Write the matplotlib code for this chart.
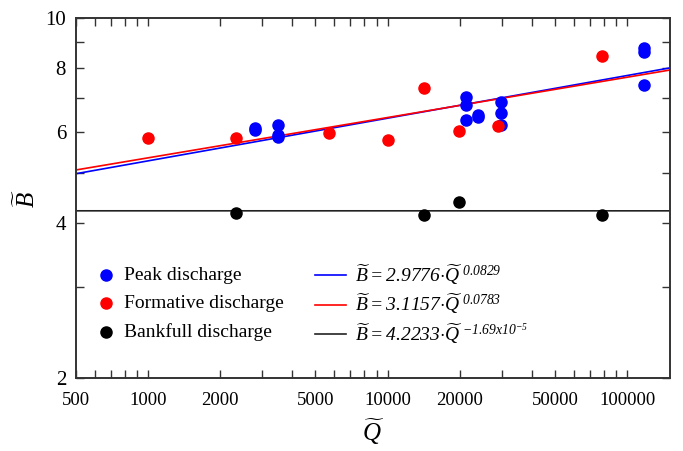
import numpy as np
import matplotlib
matplotlib.use("Agg")
import matplotlib.pyplot as plt
from matplotlib.ticker import FixedLocator, NullFormatter, FixedFormatter

plt.rcParams["font.family"] = ["Liberation Serif", "DejaVu Serif"]
plt.rcParams["mathtext.fontset"] = "custom"
plt.rcParams["mathtext.rm"] = "Liberation Serif:italic"
plt.rcParams["mathtext.it"] = "Liberation Serif:italic"

# data
peak_q = [2790, 2790, 3480, 3480, 3480, 21300, 21300, 21300, 23900, 23900,
          29800, 29800, 29800, 117500, 118000, 118000]
peak_b = [6.11, 6.06, 6.20, 5.93, 5.87, 7.04, 6.78, 6.34, 6.48, 6.42,
          6.88, 6.53, 6.20, 7.41, 8.74, 8.59]
form_q = [1000, 2320, 5720, 10000, 14200, 19900, 28900, 78500]
form_b = [5.85, 5.84, 5.99, 5.80, 7.30, 6.04, 6.17, 8.44]
bank_q = [2320, 14200, 19900, 78500]
bank_b = [4.18, 4.14, 4.39, 4.14]

# fitted power laws B = a * Q^b
fit_a = [2.9776, 3.1157, 4.2233]
fit_b = [0.0829, 0.0783, -1.69e-5]
fit_colors = ["#0000ff", "#ff0000", "#222222"]
fit_labels = [
    r"$\widetilde{B} = 2.9776{\cdot}\widetilde{Q}^{\ 0.0829}$",
    r"$\widetilde{B} = 3.1157{\cdot}\widetilde{Q}^{\ 0.0783}$",
    r"$\widetilde{B} = 4.2233{\cdot}\widetilde{Q}^{\ {-}1.69x10^{{-}5}}$",
]

x_ticks = [500, 1000, 2000, 5000, 10000, 20000, 50000, 100000]
y_ticks = [2, 4, 6, 8, 10]

fig = plt.figure(figsize=(6.83, 4.51), dpi=100)
ax = fig.add_axes([0.111, 0.162, 0.870, 0.798])

pts = []
pts.append(ax.scatter(peak_q, peak_b, s=64, color="#0000ff", zorder=3, label="Peak discharge"))
pts.append(ax.scatter(form_q, form_b, s=64, color="#ff0000", zorder=3, label="Formative discharge"))
pts.append(ax.scatter(bank_q, bank_b, s=64, color="#000000", zorder=3, label="Bankfull discharge"))

q_line = np.logspace(np.log10(500), np.log10(151000), 200)
lines = []
for a, b, c, lab in zip(fit_a, fit_b, fit_colors, fit_labels):
    ln, = ax.plot(q_line, a * q_line ** b, color=c, lw=1.2, label=lab, zorder=2)
    lines.append(ln)

ax.set_xscale("log")
ax.set_yscale("log")
ax.set_xlim(500, 151000)
ax.set_ylim(2, 10)

ax.xaxis.set_major_locator(FixedLocator(x_ticks))
ax.xaxis.set_major_formatter(FixedFormatter([str(v) for v in x_ticks]))
ax.xaxis.set_minor_locator(FixedLocator(
    [600, 700, 800, 900, 3000, 4000, 6000, 7000, 8000, 9000,
     30000, 40000, 60000, 70000, 80000, 90000]))
ax.xaxis.set_minor_formatter(NullFormatter())
ax.yaxis.set_major_locator(FixedLocator(y_ticks))
ax.yaxis.set_major_formatter(FixedFormatter([str(v) for v in y_ticks]))
ax.yaxis.set_minor_locator(FixedLocator([3, 5, 7, 9]))
ax.yaxis.set_minor_formatter(NullFormatter())

ax.tick_params(which="both", direction="in", top=True, right=True,
               colors="#333333", labelcolor="black", width=1.0, length=6)
ax.tick_params(axis="x", labelsize=13.5, pad=10)
ax.tick_params(axis="y", labelsize=15, pad=7)
for sp in ax.spines.values():
    sp.set_linewidth(1.4)
    sp.set_color("#333333")

ax.set_xlabel(r"$\widetilde{Q}$", fontsize=18, labelpad=6)
ax.set_ylabel(r"$\widetilde{B}$", fontsize=18, labelpad=4)

leg1 = ax.legend(handles=pts, loc="upper left", bbox_to_anchor=(0.034, 0.31),
                 frameon=False, fontsize=14, borderpad=0, borderaxespad=0,
                 handlelength=1.0, handletextpad=0.45, labelspacing=0.55,
                 scatterpoints=1)
ax.add_artist(leg1)
ax.legend(handles=lines, loc="upper left", bbox_to_anchor=(0.402, 0.32),
          frameon=False, fontsize=14, borderpad=0, borderaxespad=0,
          handlelength=1.6, handletextpad=0.45, labelspacing=0.25)

fig.savefig("out.png", dpi=100)
